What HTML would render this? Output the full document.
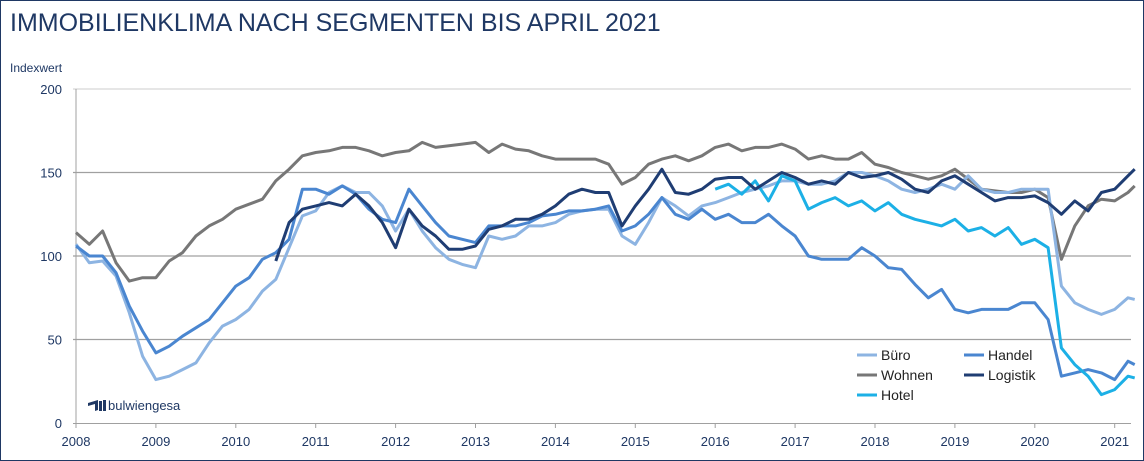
<!DOCTYPE html>
<html><head><meta charset="utf-8"><style>
body{margin:0;background:#fff;}
#wrap{position:relative;width:1144px;height:461px;overflow:hidden;font-family:"Liberation Sans",sans-serif;}
</style></head><body>
<div id="wrap">
<svg id="c" width="1144" height="461" xmlns="http://www.w3.org/2000/svg">
<rect x="0.5" y="0.5" width="1143" height="460" fill="#fff" stroke="#1f3864" stroke-width="1"/>
<text x="10" y="31" font-size="25" fill="#1f3864">IMMOBILIENKLIMA NACH SEGMENTEN BIS APRIL 2021</text>
<text x="10" y="72" font-size="12" fill="#1f3864">Indexwert</text>
<g id="grid"></g><g id="series"></g>
<g font-size="14" fill="#222">
<line x1="857" y1="355" x2="877" y2="355" stroke="#8db4e2" stroke-width="3"/><text x="881" y="360">Büro</text>
<line x1="857" y1="375" x2="877" y2="375" stroke="#777" stroke-width="3"/><text x="881" y="380">Wohnen</text>
<line x1="857" y1="395" x2="877" y2="395" stroke="#1cb0e6" stroke-width="3"/><text x="881" y="400">Hotel</text>
<line x1="964" y1="355" x2="984" y2="355" stroke="#4a86d0" stroke-width="3"/><text x="988" y="360">Handel</text>
<line x1="964" y1="375" x2="984" y2="375" stroke="#1f3d73" stroke-width="3"/><text x="988" y="380">Logistik</text>
</g>
<g>
<path d="M88 403 l10 -3 l0 10 l-3 1 l0 -7 l-7 2z" fill="#1f3864"/>
<rect x="99" y="401" width="3" height="10" fill="#1f3864"/><rect x="103" y="400" width="3" height="11" fill="#1f3864"/>
<text x="108" y="410" font-size="13" fill="#1f3864">bulwiengesa</text>
</g>
</svg>
<script>
const yTicks=[0,50,100,150,200];
const xYears=[2008,2009,2010,2011,2012,2013,2014,2015,2016,2017,2018,2019,2020,2021];
const bueroStart=2008;
const bueroValues=[107,96,97,88,66,40, 26,28,32,36,48,58, 62,68,79,86,105,124, 127,138,142,138,138,130, 115,128,115,105,98,95, 93,112,110,112,118,118, 120,125,127,128,128,112, 107,120,135,130,124,130, 132,135,138,140,142,145, 145,143,143,145,150,150, 148,145,140,138,140,143, 140,148,140,138,138,140, 140,140,82,72,68,65, 68,75,74];
const wohnenStart=2008;
const wohnenValues=[114,107,115,96,85,87, 87,97,102,112,118,122, 128,131,134,145,152,160, 162,163,165,165,163,160, 162,163,168,165,166,167, 168,162,167,164,163,160, 158,158,158,158,155,143, 147,155,158,160,157,160, 165,167,163,165,165,167, 164,158,160,158,158,162, 155,153,150,148,146,148, 152,146,140,139,138,138, 140,135,98,118,130,134, 133,138,142];
const handelStart=2008;
const handelValues=[106,100,100,90,70,55, 42,46,52,57,62,72, 82,87,98,102,110,140, 140,137,142,137,128,122, 120,140,130,120,112,110, 108,118,118,118,120,124, 125,127,127,128,130,115, 118,125,135,125,122,128, 122,125,120,120,125,118, 112,100,98,98,98,105, 100,93,92,83,75,80, 68,66,68,68,68,72, 72,62,28,30,32,30, 26,37,35];
const logistikStart=2010.5;
const logistikValues=[97,120,128, 130,132,130,137,130,120, 105,128,118,112,104,104, 106,116,118,122,122,125, 130,137,140,138,138,118, 130,140,152,138,137,140, 146,147,147,140,145,150, 147,143,145,143,150,147, 148,150,146,140,138,145, 148,143,138,133,135,135, 136,132,125,133,127,138, 140,148,152];
const hotelStart=2016;
const hotelValues=[140,143,137,145,133,148, 145,128,132,135,130,133, 127,132,125,122,120,118, 122,115,117,112,117,107, 110,105,45,35,28,17, 20,28,27];
const xs=y=>76+(y-2008)*79.9;
const ys=v=>423-v*1.67;
const NS='http://www.w3.org/2000/svg';
const grid=document.getElementById('grid'),ser=document.getElementById('series');
yTicks.forEach(t=>{
 if(t>0){const l=document.createElementNS(NS,'line');
 
 
 l.setAttribute('x1',73);l.setAttribute('x2',1131);l.setAttribute('y1',ys(t));l.setAttribute('y2',ys(t));
 l.setAttribute('stroke',t==200?'#e6e6e6':'#a0a0a0');l.setAttribute('stroke-width',t==200?2:1.2);grid.appendChild(l);}
 const tx=document.createElementNS(NS,'text');
 
 
 tx.setAttribute('x',62);tx.setAttribute('y',ys(t)+5);tx.setAttribute('text-anchor','end');tx.setAttribute('font-size','13');tx.setAttribute('fill','#1f3864');tx.textContent=t;grid.appendChild(tx);
});
const ax=document.createElementNS(NS,'line');


ax.setAttribute('x1',73);ax.setAttribute('x2',1131);ax.setAttribute('y1',423.5);ax.setAttribute('y2',423.5);ax.setAttribute('stroke','#a0a0a0');grid.appendChild(ax);
const ay=document.createElementNS(NS,'line');


ay.setAttribute('x1',76);ay.setAttribute('x2',76);ay.setAttribute('y1',89);ay.setAttribute('y2',423);ay.setAttribute('stroke','#a0a0a0');grid.appendChild(ay);
xYears.forEach(yr=>{
 const tk=document.createElementNS(NS,'line');
 
 
 tk.setAttribute('x1',xs(yr));tk.setAttribute('x2',xs(yr));tk.setAttribute('y1',423);tk.setAttribute('y2',428);tk.setAttribute('stroke','#a0a0a0');grid.appendChild(tk);
 const tx=document.createElementNS(NS,'text');
 
 
 tx.setAttribute('x',xs(yr));tx.setAttribute('y',446);tx.setAttribute('text-anchor','middle');tx.setAttribute('font-size','13');tx.setAttribute('fill','#1f3864');tx.textContent=yr;grid.appendChild(tx);
});
function draw(name,start,vals,col){
 const pts=vals.map((v,i)=>xs(Math.min(start+i/6,2021.25)).toFixed(1)+','+ys(v).toFixed(1)).join(' ');
 const p=document.createElementNS(NS,'polyline');
 
 
 p.setAttribute('points',pts);p.setAttribute('fill','none');p.setAttribute('stroke',col);p.setAttribute('stroke-width','3');p.setAttribute('stroke-linejoin','round');
 ser.appendChild(p);
}
draw('series-wohnen',wohnenStart,wohnenValues,'#777777');
draw('series-buero',bueroStart,bueroValues,'#8db4e2');
draw('series-handel',handelStart,handelValues,'#4a86d0');
draw('series-hotel',hotelStart,hotelValues,'#1cb0e6');
draw('series-logistik',logistikStart,logistikValues,'#1f3d73');
</script>
</div></body></html>
